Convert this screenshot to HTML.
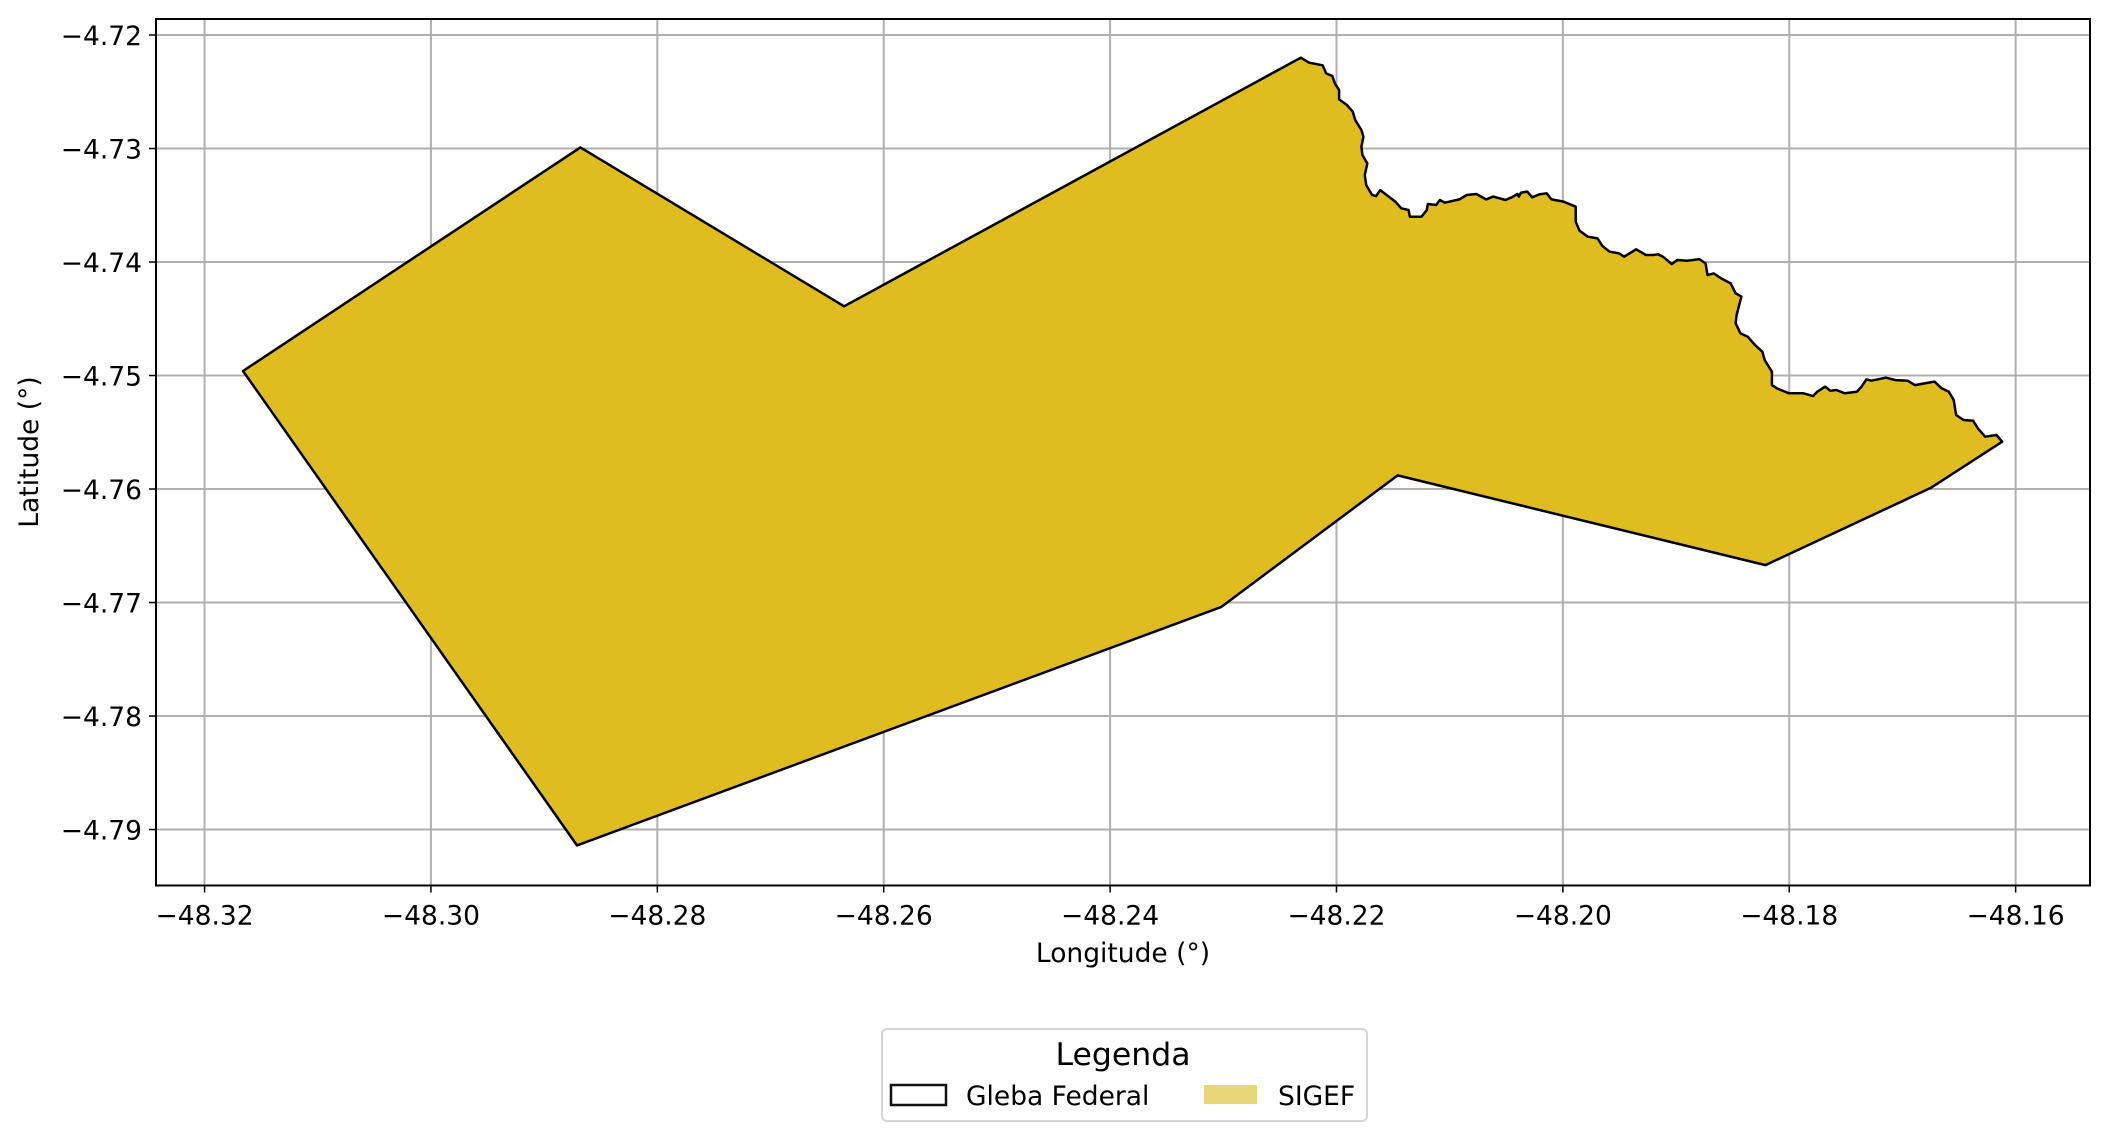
<!DOCTYPE html>
<html><head><meta charset="utf-8"><style>
body{margin:0;background:#fff}
svg{display:block;font-family:"DejaVu Sans","Liberation Sans",sans-serif}
</style></head><body>
<svg id="chart" width="2110" height="1140" viewBox="0 0 2110 1140">
<rect x="0" y="0" width="2110" height="1140" fill="#fff"/>
<g id="grid"></g>
<g id="polys"></g>
<rect x="156" y="19" width="1934" height="866.5" fill="none" stroke="#000" stroke-width="2"/>
<g id="ticks"></g>
<text x="1123" y="962" font-size="26.5" text-anchor="middle">Longitude (°)</text>
<text x="0" y="0" font-size="26.5" text-anchor="middle" transform="translate(38,452) rotate(-90)">Latitude (°)</text>
<g>
<rect x="882" y="1029" width="485" height="92" rx="5" fill="#fff" stroke="#d5d5d5" stroke-width="2"/>
<text x="1123" y="1065" font-size="31.5" text-anchor="middle">Legenda</text>
<rect x="891" y="1085" width="55" height="20" fill="#fff" stroke="#111" stroke-width="2.5"/>
<text x="966" y="1105" font-size="26.5">Gleba Federal</text>
<rect x="1204" y="1085" width="53" height="19" fill="#e9d57a"/>
<text x="1278" y="1105" font-size="26.5">SIGEF</text>
</g>
</svg>
<script>
const xTicks=[-48.32,-48.30,-48.28,-48.26,-48.24,-48.22,-48.20,-48.18,-48.16];
const yTicks=[-4.72,-4.73,-4.74,-4.75,-4.76,-4.77,-4.78,-4.79];
const polyLon=[-48.3166,-48.2868,-48.2635,
-48.22315,-48.22242,-48.22122,-48.22092,-48.22037,-48.22015,-48.21977,-48.21977,-48.21908,-48.21857,-48.21835,-48.21780,-48.21762,-48.21780,-48.21771,-48.21728,-48.21750,-48.21737,-48.21685,-48.21651,-48.21613,-48.21557,-48.21480,-48.21428,-48.21364,-48.21351,-48.21249,-48.21202,-48.21193,-48.21120,-48.21086,-48.21043,-48.20915,-48.20850,-48.20765,-48.20679,-48.20615,-48.20508,-48.20452,-48.20401,-48.20388,-48.20371,-48.20315,-48.20272,-48.20208,-48.20144,-48.20101,-48.19994,-48.19887,-48.19887,-48.19853,-48.19780,-48.19694,-48.19651,-48.19587,-48.19502,-48.19459,-48.19352,-48.19266,-48.19202,-48.19159,-48.19116,-48.19073,-48.19039,-48.18988,-48.18902,-48.18795,-48.18739,-48.18722,-48.18667,-48.18602,-48.18517,-48.18474,-48.18423,-48.18465,-48.18474,-48.18431,-48.18367,-48.18303,-48.18238,-48.18217,-48.18153,-48.18153,-48.18110,-48.18003,-48.17874,-48.17789,-48.17754,-48.17682,-48.17639,-48.17583,-48.17510,-48.17403,-48.17361,-48.17318,-48.17275,-48.17146,-48.17061,-48.16954,-48.16890,-48.16804,-48.16718,-48.16654,-48.16590,-48.16547,-48.16526,-48.16461,-48.16376,-48.16333,-48.16269,-48.16170,-48.16119,
-48.1675,-48.1821,-48.2146,-48.2302,-48.2871];
const polyLat=[-4.7496,-4.7299,-4.7439,
-4.72200,-4.72244,-4.72267,-4.72338,-4.72361,-4.72426,-4.72485,-4.72567,-4.72617,-4.72675,-4.72749,-4.72837,-4.72896,-4.72984,-4.73057,-4.73131,-4.73233,-4.73322,-4.73410,-4.73419,-4.73366,-4.73410,-4.73468,-4.73527,-4.73542,-4.73601,-4.73601,-4.73542,-4.73489,-4.73498,-4.73454,-4.73477,-4.73448,-4.73410,-4.73401,-4.73448,-4.73424,-4.73454,-4.73430,-4.73401,-4.73424,-4.73389,-4.73380,-4.73430,-4.73404,-4.73395,-4.73448,-4.73468,-4.73513,-4.73645,-4.73724,-4.73777,-4.73792,-4.73859,-4.73909,-4.73924,-4.73953,-4.73888,-4.73938,-4.73938,-4.73932,-4.73953,-4.73988,-4.74018,-4.73982,-4.73988,-4.73974,-4.74012,-4.74115,-4.74100,-4.74144,-4.74188,-4.74276,-4.74305,-4.74467,-4.74540,-4.74629,-4.74658,-4.74731,-4.74790,-4.74864,-4.74966,-4.75084,-4.75113,-4.75157,-4.75157,-4.75181,-4.75143,-4.75098,-4.75134,-4.75128,-4.75157,-4.75143,-4.75098,-4.75034,-4.75046,-4.75019,-4.75040,-4.75046,-4.75084,-4.75069,-4.75054,-4.75113,-4.75143,-4.75216,-4.75348,-4.75392,-4.75398,-4.75466,-4.75539,-4.75524,-4.75583,
-4.7599,-4.7667,-4.7588,-4.7704,-4.7914];

const X0=156,X1=2090,Y0=19,Y1=885.5;
const lonMin=-48.32429,lonMax=-48.15343,latMax=-4.71859,latMin=-4.79493;
const sx=v=>X0+(v-lonMin)/(lonMax-lonMin)*(X1-X0);
const sy=v=>Y0+(latMax-v)/(latMax-latMin)*(Y1-Y0);
const NS="http://www.w3.org/2000/svg";
const grid=document.getElementById('grid'),ticks=document.getElementById('ticks'),polys=document.getElementById('polys');
function mk(t,a,p){const e=document.createElementNS(NS,t);for(const k in a)e.setAttribute(k,a[k]);p.appendChild(e);return e;}
const fmt=v=>(v<0?'\u2212':'')+Math.abs(v).toFixed(2);
xTicks.forEach(v=>{
  const x=sx(v);
  const g=mk('line',{x1:x,x2:x,y1:Y0,y2:Y1,stroke:'#b0b0b0','stroke-width':2},grid);
  
  
  const t=mk('line',{x1:x,x2:x,y1:Y1,y2:Y1+7,stroke:'#000','stroke-width':1.5},ticks);
  
  
  const l=mk('text',{x:x,y:Y1+39,'font-size':26.5,'text-anchor':'middle'},ticks);
  l.textContent=fmt(v);
  
  
});
yTicks.forEach(v=>{
  const y=sy(v);
  const g=mk('line',{x1:X0,x2:X1,y1:y,y2:y,stroke:'#b0b0b0','stroke-width':2},grid);
  
  
  const t=mk('line',{x1:X0-7,x2:X0,y1:y,y2:y,stroke:'#000','stroke-width':1.5},ticks);
  
  
  const l=mk('text',{x:X0-14,y:y+10,'font-size':26.5,'text-anchor':'end'},ticks);
  l.textContent=fmt(v);
  
  
});
const pts=polyLon.map((v,i)=>sx(v).toFixed(1)+','+sy(polyLat[i]).toFixed(1)).join(' ');
const sig=mk('polygon',{points:pts,fill:'#dfbd20',stroke:'none'},polys);


const gl=mk('polygon',{points:pts,fill:'none',stroke:'#000','stroke-width':2.5,'stroke-linejoin':'round'},polys);


</script>
</body></html>
